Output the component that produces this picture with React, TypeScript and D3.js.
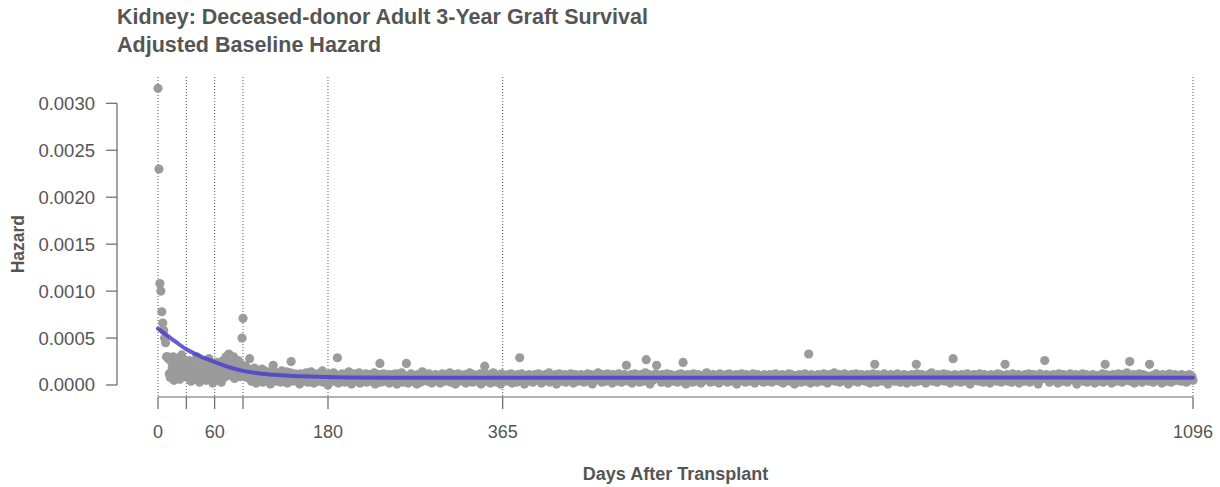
import React from 'react';
import * as d3 from 'd3';

// Hazard values in units of 1e-5 per day
const HAZARD_UNIT = 1e-5;

const hazardDays0to96 = [
  316, 230, 108, 100, 78, 66, 58, 50, 45, 30,
  30, 28, 12, 8, 25, 18, 30, 5, 15, 22,
  10, 28, 20, 6, 14, 32, 18, 9, 24, 12,
  20, 8, 15, 26, 12, 4, 18, 10, 22, 6,
  14, 30, 9, 16, 3, 20, 11, 25, 7, 13,
  17, 5, 22, 10, 28, 8, 15, 12, 2, 19,
  9, 14, 24, 6, 18, 11, 20, 3, 16, 26,
  8, 13, 30, 22, 10, 33, 28, 15, 25, 12,
  30, 7, 20, 18, 11, 26, 14, 9, 22, 50,
  71, 18, 12, 20, 8, 15, 10,
];

const hazardDays97to346 = [
  10,16,4,12,7,18,9,2,14,11, 6,13,8,17,3,10,15,7,12,5, 9,14,1,11,8,16,6,10,4,13, 7,12,9,3,15,8,11,5,10,14, 2,9,7,13,6,11,4,8,12,7,
  5,10,8,1,12,7,9,4,11,6, 13,8,3,10,7,14,5,9,2,11, 8,6,12,4,10,7,9,15,3,8, 11,6,9,0,12,7,10,5,8,13, 4,9,7,11,2,8,10,6,12,5,
  9,3,11,7,8,14,5,10,1,9, 12,6,8,4,11,7,13,2,9,6, 10,8,5,12,3,9,7,11,4,8, 6,10,13,1,7,9,5,11,8,3, 10,6,12,7,4,9,8,11,2,7,
  8,11,4,9,6,12,1,10,7,5, 9,13,3,8,10,6,11,7,2,9, 5,12,8,4,10,7,9,1,11,6, 8,3,10,14,5,9,7,11,4,8, 12,6,9,2,10,7,5,11,8,4,
  7,10,2,9,12,6,8,4,11,5, 9,7,13,3,10,8,6,11,1,9, 7,12,5,8,10,4,9,6,11,2, 8,10,7,13,5,9,3,11,6,8, 4,10,7,9,12,1,8,6,11,5,
];

const hazardDays347to596 = [
  9,4,11,7,8,2,10,6,13,5, 8,11,3,9,7,10,1,12,6,8, 5,10,9,4,11,7,8,12,2,9, 6,10,8,3,11,7,9,5,12,6, 8,1,10,7,9,4,11,8,6,10,
  3,8,11,6,9,5,12,7,10,2, 8,9,4,11,6,10,7,13,3,8, 10,5,9,7,11,1,8,6,12,9, 4,10,7,8,11,3,9,6,10,5, 12,7,8,2,9,11,6,10,4,8,
  7,11,5,9,3,10,8,6,12,4, 9,7,11,1,8,10,5,9,7,13, 6,8,10,3,11,7,9,4,8,12, 5,10,7,9,2,11,8,6,10,4, 9,12,7,8,3,10,6,11,5,9,
  8,4,10,7,11,2,9,6,12,8, 5,10,9,3,11,7,8,4,10,13, 6,9,7,11,1,8,10,5,9,7, 12,4,8,10,6,9,3,11,7,8, 5,10,12,2,9,7,11,6,8,4,
  10,7,9,3,11,6,8,12,4,9, 7,10,1,8,11,5,9,7,10,3, 12,6,8,9,4,11,7,10,2,8, 9,5,11,7,13,6,8,10,3,9, 7,11,4,8,10,6,9,2,12,7,
];

const hazardDays597to846 = [
  8,10,5,9,7,11,3,8,12,6, 9,4,10,7,8,11,1,9,6,10, 8,12,5,7,9,3,11,8,6,10, 4,9,7,12,8,2,10,6,11,7, 9,5,8,10,3,11,7,9,4,8,
  6,11,8,3,10,7,9,12,5,8, 10,4,9,7,11,2,8,10,6,9, 7,12,4,8,11,6,9,1,10,7, 8,5,11,9,3,10,7,8,12,4, 9,6,10,8,2,11,7,9,5,10,
  8,3,11,7,9,6,10,4,12,8, 7,9,2,10,11,5,8,7,9,13, 4,10,6,8,11,3,9,7,10,5, 12,8,6,9,1,10,7,11,4,8, 9,6,12,7,3,10,8,5,11,9,
  7,10,4,8,11,6,9,2,10,7, 12,5,8,9,3,11,6,10,7,8, 4,9,12,6,8,10,1,9,7,11, 5,8,10,4,9,7,12,6,8,3, 10,9,7,11,5,8,2,10,6,9,
  8,11,6,9,3,10,7,12,4,8, 9,5,11,7,8,10,2,9,6,11, 7,8,13,4,9,6,10,8,3,11, 7,9,5,10,8,12,4,7,9,11, 6,8,2,10,7,9,5,11,8,4,
];

const hazardDays847to1096 = [
  10,7,9,3,11,8,6,10,4,9, 12,7,8,1,10,6,9,11,5,8, 7,10,4,12,8,6,9,3,11,7, 8,10,5,9,2,11,7,8,6,10, 9,4,12,7,8,11,3,9,6,10,
  7,9,11,4,8,6,10,3,12,8, 9,5,10,7,11,2,8,9,6,10, 4,11,8,7,9,12,3,10,6,8, 11,5,9,7,10,1,8,12,6,9, 7,10,4,8,11,6,9,3,10,7,
  8,11,5,9,7,10,2,12,6,8, 9,4,11,7,8,10,3,9,6,12, 7,8,10,5,9,11,1,8,7,10, 6,9,12,4,8,7,11,3,10,8, 5,9,7,11,8,2,10,6,9,4,
  10,7,8,12,3,9,6,11,8,5, 10,7,9,2,11,8,6,10,4,9, 12,7,8,11,3,10,6,9,7,13, 5,8,10,4,9,7,11,2,8,10, 6,9,12,7,8,3,11,6,9,10,
  7,9,4,11,8,6,10,3,9,7, 12,8,5,10,7,9,2,11,6,8, 10,4,9,7,12,8,3,10,6,9, 11,5,8,7,10,9,4,11,6,8, 7,10,3,9,8,11,6,7,9,5,
];

// Isolated high points [day, hazard in 1e-5]
const hazardSpikes: [number, number][] = [
  [97, 28], [122, 21], [141, 25], [190, 29], [235, 23], [263, 23], [346, 20],
  [383, 29], [496, 21], [517, 27], [528, 21], [556, 24], [689, 33], [759, 22],
  [803, 22], [842, 28], [897, 22], [939, 26], [1003, 22], [1029, 25], [1050, 22],
];

// Smoothed fitted curve
const fitDays = [0, 10, 20, 30, 45, 60, 75, 90, 110, 130, 160, 200, 260, 365, 500, 700, 900, 1096];
const fitHazard = [
  0.0006, 0.000525, 0.00045, 0.00038, 0.000305, 0.000245, 0.00019, 0.00015, 0.00012,
  0.000104, 0.00009, 0.000081, 0.000077, 0.000076, 0.000077, 0.000078, 0.000079, 0.000078,
];

const xTickDays = [0, 30, 60, 90, 180, 365, 1096];
const xTickLabels = ['0', '', '60', '', '180', '365', '1096'];
const yTicks = [0, 0.0005, 0.001, 0.0015, 0.002, 0.0025, 0.003];

const titleLines = ['Kidney: Deceased-donor Adult 3-Year Graft Survival', 'Adjusted Baseline Hazard'];
const xLabel = 'Days After Transplant';
const yLabel = 'Hazard';

const FONT = '"Liberation Sans", Arial, Helvetica, sans-serif';
const TEXT = '#555';
const AXIS = '#666';

export default function App() {
  const width = 1220;
  const height = 487;
  const x = d3.scaleLinear().domain([0, 1096]).range([158, 1193]);
  const y = d3.scaleLinear().domain([0, 0.003]).range([385, 103.3]);
  const axisY = 397;
  const axisX = 117;

  const raw = [
    ...hazardDays0to96,
    ...hazardDays97to346,
    ...hazardDays347to596,
    ...hazardDays597to846,
    ...hazardDays847to1096,
  ];
  const spikeMap = new Map(hazardSpikes);
  const points = raw.map((v, i) => ({ day: i, h: (spikeMap.has(i) ? spikeMap.get(i)! : v) * HAZARD_UNIT }));

  const fit: [number, number][] = fitDays.map((d, i) => [d, fitHazard[i]]);
  const line = d3
    .line<[number, number]>()
    .x((d) => x(d[0]))
    .y((d) => y(d[1]))
    .curve(d3.curveMonotoneX);

  const fmt = d3.format('.4f');

  return (
    <svg width={width} height={height} style={{ position: 'absolute', left: 0, top: 0, background: '#fff' }} fontFamily={FONT}>
      {titleLines.map((t, i) => (
        <text key={i} x={117} y={24 + i * 28} fontSize={21.5} fontWeight="bold" fill={TEXT}>
          {t}
        </text>
      ))}

      {/* dotted reference lines */}
      {xTickDays.map((d) => (
        <line key={'v' + d} x1={x(d)} x2={x(d)} y1={77} y2={axisY} stroke="#555" strokeWidth={1} strokeDasharray="1,2" />
      ))}

      {/* points */}
      {points.map((p) => (
        <circle key={p.day} cx={x(p.day)} cy={y(p.h)} r={4.6} fill="#9b9b9b" />
      ))}

      {/* fitted curve */}
      <path d={line(fit) || ''} fill="none" stroke="#4a3fcf" strokeOpacity={0.85} strokeWidth={4} strokeLinecap="round" />

      {/* y axis */}
      <line x1={axisX} x2={axisX} y1={y(0.003)} y2={y(0)} stroke={AXIS} strokeWidth={1.2} />
      {yTicks.map((t) => (
        <g key={'y' + t}>
          <line x1={axisX - 11} x2={axisX} y1={y(t)} y2={y(t)} stroke={AXIS} strokeWidth={1.2} />
          <text x={95} y={y(t)} dy="0.35em" textAnchor="end" fontSize={18.5} fill={TEXT}>
            {fmt(t)}
          </text>
        </g>
      ))}
      <text
        transform={`translate(24,${(y(0) + y(0.003)) / 2}) rotate(-90)`}
        textAnchor="middle"
        fontSize={17.5}
        fontWeight="bold"
        fill={TEXT}
      >
        {yLabel}
      </text>

      {/* x axis */}
      <line x1={x(0)} x2={x(1096)} y1={axisY} y2={axisY} stroke={AXIS} strokeWidth={1.2} />
      {xTickDays.map((d, i) => (
        <g key={'x' + d}>
          <line x1={x(d)} x2={x(d)} y1={axisY} y2={axisY + 12} stroke={AXIS} strokeWidth={1.2} />
          {xTickLabels[i] && (
            <text x={x(d)} y={438} textAnchor="middle" fontSize={18} fill={TEXT}>
              {xTickLabels[i]}
            </text>
          )}
        </g>
      ))}
      <text x={(x(0) + x(1096)) / 2} y={480} textAnchor="middle" fontSize={18} fontWeight="bold" fill={TEXT}>
        {xLabel}
      </text>
    </svg>
  );
}
